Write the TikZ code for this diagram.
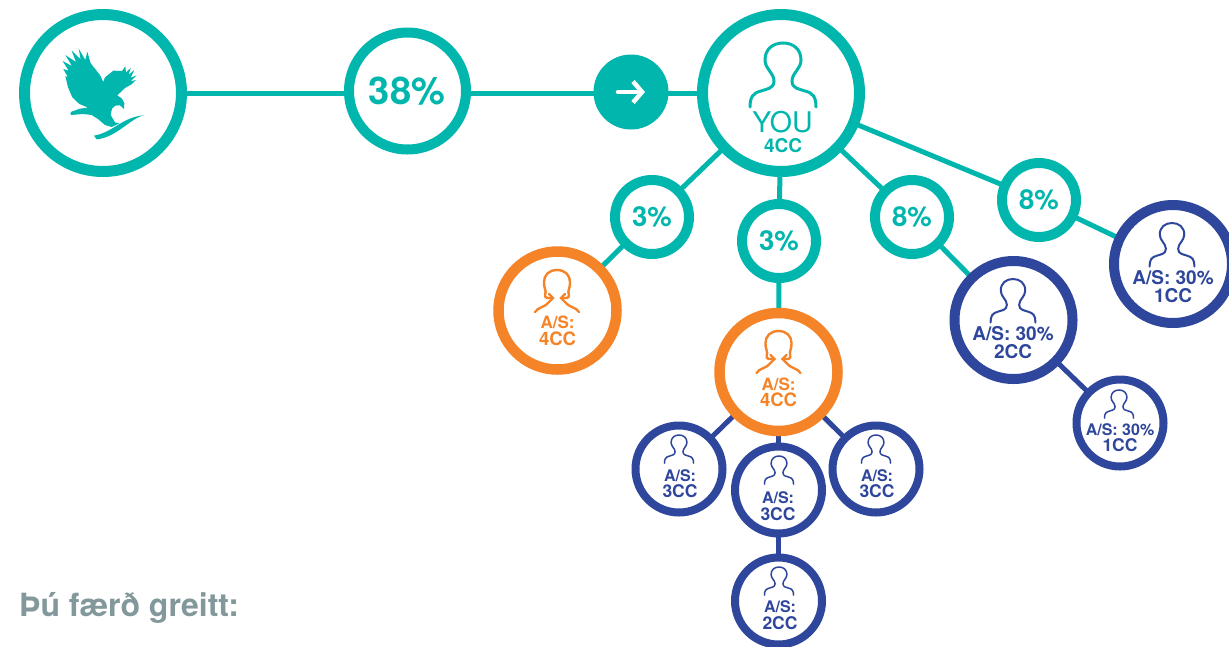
\documentclass[tikz,border=0pt]{standalone}
\usepackage{fontspec}
\setmainfont{TeX Gyre Heros}
\usetikzlibrary{arrows.meta,backgrounds}
\definecolor{teal1}{HTML}{00B6AD}
\definecolor{navy1}{HTML}{2E469B}
\definecolor{orange1}{HTML}{F58328}
\definecolor{grey1}{HTML}{82989B}
\tikzset{
  ring/.style={circle,draw=#1,fill=white,inner sep=0pt,outer sep=0pt},
  bigring/.style={ring=teal1,line width=11pt,minimum size=157pt},
  midring/.style={ring=teal1,line width=10pt,minimum size=117pt},
  pctring/.style={ring=teal1,line width=10pt,minimum size=74pt,font=\bfseries\fontsize{27.5}{27.5}\selectfont,text=teal1},
  orring/.style={ring=orange1,line width=10.5pt,minimum size=118pt},
  blring/.style={ring=navy1,line width=10pt,minimum size=118pt},
  smring/.style={ring=navy1,line width=8pt,minimum size=87pt},
  tealline/.style={draw=teal1,line width=5pt},
  navyline/.style={draw=navy1,line width=5pt},
  lbl/.style={font=\bfseries\fontsize{#1}{#1}\selectfont,align=center,inner sep=0pt},
  person/.pic={
    \draw[line cap=round,pic actions]
      (-33,64) .. controls (-33,54) and (-30,50) .. (-22,48)
      .. controls (-17,46) and (-9,46) .. (-9,38)
      .. controls (-9,30) and (-18,26) .. (-18,17)
      .. controls (-18,6) and (-10,0) .. (0,0)
      .. controls (10,0) and (18,6) .. (18,17)
      .. controls (18,26) and (9,30) .. (9,38)
      .. controls (9,46) and (17,46) .. (22,48)
      .. controls (30,50) and (33,54) .. (33,64);
  },
  orperson/.pic={
    \draw[line width=2.4pt,line cap=round,line join=miter,pic actions]
      (-4,28) -- (-10,28) .. controls (-14,27) and (-10,22) .. (-12,19)
      .. controls (-13,16) and (-13,14) .. (-13,12)
      .. controls (-13,5) and (-8,0) .. (0,0)
      .. controls (8,0) and (13,5) .. (13,12)
      .. controls (13,14) and (13,16) .. (12,19)
      .. controls (10,22) and (14,27) .. (10,28) -- (4,28);
    \draw[line width=2.4pt,line cap=round,line join=miter,pic actions] (-8,24) -- (-4,28) -- (-8,32);
    \draw[line width=2.4pt,line cap=round,line join=miter,pic actions] (8,24) -- (4,28) -- (8,32);
    \draw[line width=2.4pt,line cap=round,pic actions]
      (-22,42) .. controls (-19,37) and (-13,38) .. (-8,32);
    \draw[line width=2.4pt,line cap=round,pic actions]
      (22,42) .. controls (19,37) and (13,38) .. (8,32);
  }
}
\begin{document}
\begin{tikzpicture}[x=1pt,y=-1pt]
\useasboundingbox (0,0) rectangle (1229,646);
% ---------- nodes
\node[bigring] (eagle) at (103,93) {};
\node[midring] (pct38) at (407.5,91) {};
\node[circle,fill=teal1,minimum size=75pt,inner sep=0pt] (go) at (631,92) {};
\node[bigring] (you) at (781,93) {};
\node[pctring] (p3a) at (652,217) {3\%};
\node[pctring] (p3b) at (779,241) {3\%};
\node[pctring] (p8a) at (912,217) {8\%};
\node[pctring] (p8b) at (1039,200) {8\%};
\node[orring] (ora) at (557.5,310.5) {};
\node[orring] (orb) at (778.5,372) {};
\node[blring] (bla) at (1173,264) {};
\node[blring] (blb) at (1013.5,320) {};
\node[smring] (s1) at (1120,423) {};
\node[smring] (s2) at (679,469) {};
\node[smring] (s3) at (778.5,490) {};
\node[smring] (s4) at (876,469) {};
\node[smring] (s5) at (778.5,601) {};
% ---------- connectors
\begin{scope}[on background layer]
\path[tealline] (eagle.center) -- (you.center);
\path[tealline] (you.center) -- (p3a.center);
\path[tealline] (p3a.center) -- (ora.center);
\path[tealline] (you.center) -- (p3b.center);
\path[tealline] (p3b.center) -- (orb.center);
\path[tealline] (you.center) -- (p8a.center);
\path[tealline] (p8a.center) -- (blb.center);
\path[tealline] (you.center) -- (p8b.center);
\path[tealline] (p8b.center) -- (bla.center);
\path[navyline] (blb.center) -- (s1.center);
\path[navyline] (orb.center) -- (s2.center);
\path[navyline] (orb.center) -- (s3.center);
\path[navyline] (orb.center) -- (s4.center);
\path[navyline] (s3.center) -- (s5.center);
\end{scope}
% ---------- eagle
\begin{scope}[x=0.3333pt,y=-0.3333pt]
\fill[teal1] (322,272) -- (300,225) -- (272,190) -- (262,155) -- (256,180) -- (236,146) -- (242,178)
 -- (215,152) -- (228,186) -- (196,165) -- (216,198) -- (188,183) -- (206,212) -- (190,207) -- (204,232) -- (196,228)
 -- (204,262) -- (217,292) -- (238,312) -- (262,322) -- (285,320) -- (240,326) -- (212,336) -- (212,345) -- (250,342)
 -- (275,345) -- (295,358) -- (315,375) -- (335,381) -- (358,370) -- (345,367) -- (332,345) -- (336,326) -- (346,317)
 -- (360,316) -- (372,327) -- (373,310) -- (366,296) -- (352,286) -- (375,264) -- (396,252) -- (408,240) -- (392,244)
 -- (410,226) -- (392,233) -- (403,210) -- (386,224) -- (392,204) -- (378,217) -- (376,199) -- (366,213) -- (340,212)
 -- (315,232) -- (308,252) -- cycle;
\fill[teal1] (282,407) .. controls (340,397) and (365,352) .. (431,346)
 .. controls (390,356) and (350,412) .. (290,418) -- cycle;
\end{scope}
% ---------- arrow
\draw[white,line width=4.5pt,line cap=round,-{Straight Barb[length=9pt,width=21pt,line width=4.5pt]}] (618,92) -- (645,92);
% ---------- texts
\node[lbl=38,text=teal1] (t38) at (407,91) {38\%};
\node[inner sep=0pt,text=teal1,text depth=0pt,anchor=base,font=\fontsize{28.5}{28.5}\selectfont] (tyou) at (782.5,132.5) {YOU};
\node[lbl=19,text=teal1] (tcc) at (783,145.5) {4CC};
\pic[draw=teal1,line width=3pt] at (783,43) {person};
\pic[draw=orange1] at (557,270) {orperson};
\pic[draw=orange1] at (778.5,331) {orperson};
\node[lbl=17,text=orange1] (ta) at (557.5,322) {A/S:};
\node[lbl=18.5,text=orange1] (tb) at (557.5,339) {4CC};
\node[lbl=17,text=orange1] (tc) at (778.5,384) {A/S:};
\node[lbl=18.5,text=orange1] (td) at (778.5,400) {4CC};
\pic[draw=navy1,scale=0.68,line width=2pt] at (1172,223) {person};
\node[lbl=19,text=navy1] (te) at (1173,278) {A/S: 30\%};
\node[lbl=19,text=navy1] (tf) at (1173,296) {1CC};
\pic[draw=navy1,scale=0.68,line width=2pt] at (1013,279) {person};
\node[lbl=19,text=navy1] (tg) at (1013,334) {A/S: 30\%};
\node[lbl=19,text=navy1] (th) at (1013,352) {2CC};
\pic[draw=navy1,scale=0.44,line width=1.5pt] at (1119,390) {person};
\node[lbl=16,text=navy1] (ti) at (1120,430) {A/S: 30\%};
\node[lbl=17.5,text=navy1] (tj) at (1120,445) {1CC};
\pic[draw=navy1,scale=0.44,line width=1.5pt] at (679,435) {person};
\node[lbl=16,text=navy1] (tk) at (680,476) {A/S:};
\node[lbl=17.5,text=navy1] (tl) at (680,491) {3CC};
\pic[draw=navy1,scale=0.44,line width=1.5pt] at (779,456) {person};
\node[lbl=16,text=navy1] (tm) at (778,498) {A/S:};
\node[lbl=17.5,text=navy1] (tn) at (778,514) {3CC};
\pic[draw=navy1,scale=0.44,line width=1.5pt] at (876,435) {person};
\node[lbl=16,text=navy1] (to) at (877,476) {A/S:};
\node[lbl=17.5,text=navy1] (tp) at (877,491) {3CC};
\pic[draw=navy1,scale=0.44,line width=1.5pt] at (779,567) {person};
\node[lbl=16,text=navy1] (tq) at (780,607) {A/S:};
\node[lbl=17.5,text=navy1] (tr) at (780,623) {2CC};
\node[lbl=32,text=grey1,anchor=base west] (head) at (19,616) {Þú færð greitt:};
\end{tikzpicture}
\end{document}
